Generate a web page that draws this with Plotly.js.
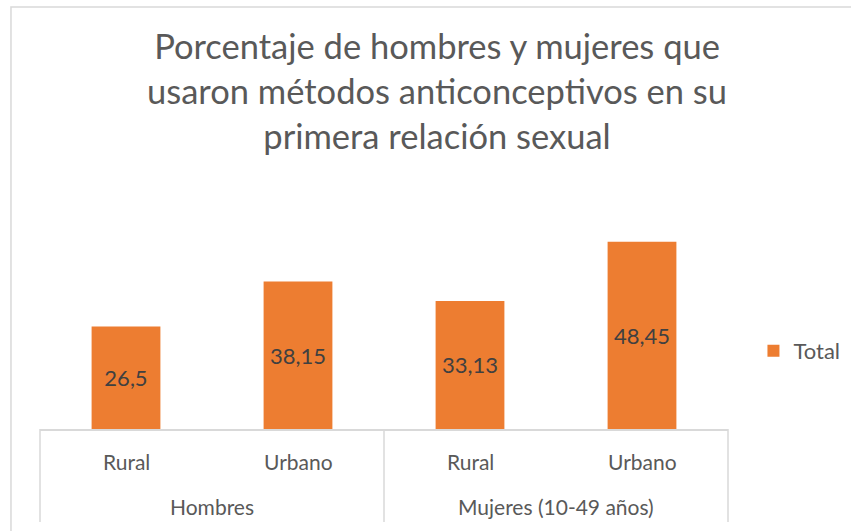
<!DOCTYPE html>
<html>
<head>
<meta charset="utf-8">
<script src="https://cdn.plot.ly/plotly-3.0.1.min.js"></script>
<style>
html,body{margin:0;padding:0;background:#fff;}
#chart{width:851px;height:531px;}
</style>
</head>
<body>
<div id="chart"></div>
<script>
const groups = ["Hombres", "Hombres", "Mujeres (10-49 años)", "Mujeres (10-49 años)"];
const areas = ["Rural", "Urbano", "Rural", "Urbano"];
const groupLabels = ["Hombres", "Mujeres (10-49 años)"];
const values = [26.5, 38.15, 33.13, 48.45];
const seriesName = "Total";
const titleText = "Porcentaje de hombres y mujeres que<br>usaron métodos anticonceptivos en su<br>primera relación sexual";

const FONT = "Lato, 'Open Sans', sans-serif";
const GRAY = "#595959";
const LINE = "#d9d9d9";

const trace = {
  type: "bar",
  x: [groups, areas],
  y: values,
  name: seriesName,
  marker: {color: "#ED7D31"},
  text: values.map(v => String(v).replace(".", ",")),
  textposition: "inside",
  insidetextanchor: "middle",
  textangle: 0,
  textfont: {family: FONT, size: 22, color: "#404040"},
  hoverinfo: "none",
  showlegend: true
};

const annotations = [];
annotations.push({
  text: titleText, xref: "paper", yref: "paper",
  x: 0.577, y: 1.457, xanchor: "center", yanchor: "middle",
  showarrow: false, align: "center",
  font: {family: FONT, size: 34.5, color: GRAY}
});
areas.forEach((a, i) => {
  annotations.push({
    text: a, xref: "x", yref: "paper", x: i, y: -0.138,
    xanchor: "center", yanchor: "middle", showarrow: false,
    font: {family: FONT, size: 21, color: GRAY}
  });
});
groupLabels.forEach((g, j) => {
  annotations.push({
    text: g, xref: "paper", yref: "paper", x: 0.25 + 0.5 * j, y: -0.336,
    xanchor: "center", yanchor: "middle", showarrow: false,
    font: {family: FONT, size: 21, color: GRAY}
  });
});

const shapes = [{
  type: "rect", xref: "paper", yref: "paper",
  x0: -0.0422, x1: 1.3, y0: -0.6, y1: 1.819,
  line: {color: LINE, width: 1.5},
  fillcolor: "rgba(0,0,0,0)",
  layer: "below"
}];
[0, 0.5, 1].forEach(px => {
  shapes.push({
    type: "line", xref: "paper", yref: "paper",
    x0: px, x1: px, y0: 0, y1: -0.401,
    line: {color: LINE, width: 1.5}
  });
});

const layout = {
  width: 851,
  height: 531,
  margin: {l: 40, r: 123, t: 197, b: 102, autoexpand: false},
  paper_bgcolor: "#ffffff",
  plot_bgcolor: "#ffffff",
  font: {family: FONT, color: GRAY},
  bargap: 0.6,
  xaxis: {
    type: "multicategory",
    showline: true,
    linecolor: LINE,
    linewidth: 1.5,
    ticks: "",
    showticklabels: false,
    showdividers: false,
    showgrid: false,
    zeroline: false
  },
  yaxis: {
    range: [0, 60],
    visible: false,
    showgrid: false,
    zeroline: false
  },
  legend: {
    x: 1.037, xanchor: "left",
    y: 0.336, yanchor: "middle",
    font: {family: FONT, size: 22, color: GRAY},
    itemwidth: 30
  },
  annotations: annotations,
  shapes: shapes
};

Plotly.newPlot("chart", [trace], layout, {displayModeBar: false, staticPlot: true});
</script>
</body>
</html>
